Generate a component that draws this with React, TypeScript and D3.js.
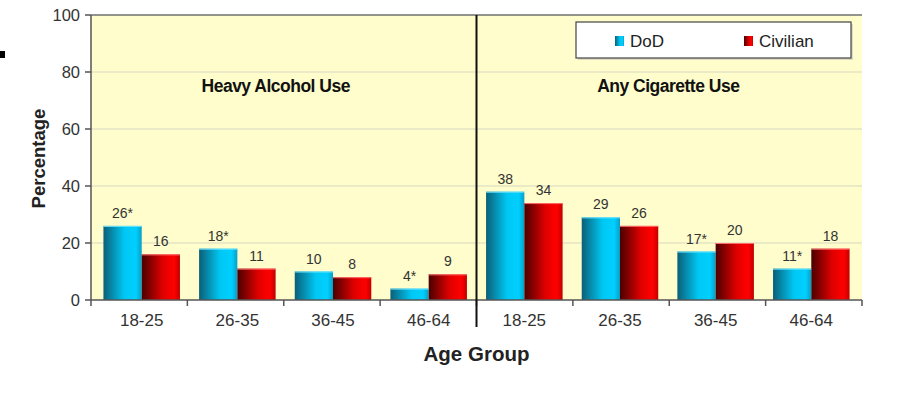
import { useEffect, useRef } from "react";
import * as d3 from "d3";

const width = 898;
const height = 394;
const margin = { top: 15, right: 36, bottom: 94, left: 91 };

const panels = ["Heavy Alcohol Use", "Any Cigarette Use"];
const ageGroups = ["18-25", "26-35", "36-45", "46-64"];
const series = ["DoD", "Civilian"];
const dodValues = [26, 18, 10, 4, 38, 29, 17, 11];
const civilianValues = [16, 11, 8, 9, 34, 26, 20, 18];
const dodLabels = ["26*", "18*", "10", "4*", "38", "29", "17*", "11*"];
const civilianLabels = ["16", "11", "8", "9", "34", "26", "20", "18"];
const yTicks = [0, 20, 40, 60, 80, 100];

const font = "'Liberation Sans', Arial, Helvetica, sans-serif";

function App() {
  const d3Node = useRef<HTMLDivElement>(null);

  useEffect(() => {
    const root = d3.select(d3Node.current);
    root.selectAll("svg").remove();

    const svg = root
      .append("svg")
      .attr("width", width)
      .attr("height", height)
      .attr("viewBox", [0, 0, width, height].join(" "))
      .style("position", "absolute")
      .style("left", "0px")
      .style("top", "0px")
      .style("background", "#fff");

    const defs = svg.append("defs");
    const blueGrad = defs.append("linearGradient").attr("id", "gBlue");
    blueGrad.append("stop").attr("offset", "0%").attr("stop-color", "#0b5f78");
    blueGrad.append("stop").attr("offset", "55%").attr("stop-color", "#00c8f4");
    blueGrad.append("stop").attr("offset", "85%").attr("stop-color", "#00cfff");
    blueGrad.append("stop").attr("offset", "100%").attr("stop-color", "#079fc6");
    const redGrad = defs.append("linearGradient").attr("id", "gRed");
    redGrad.append("stop").attr("offset", "0%").attr("stop-color", "#4a0000");
    redGrad.append("stop").attr("offset", "55%").attr("stop-color", "#e00000");
    redGrad.append("stop").attr("offset", "85%").attr("stop-color", "#ff0000");
    redGrad.append("stop").attr("offset", "100%").attr("stop-color", "#c00000");

    const plotW = width - margin.left - margin.right;
    const plotH = height - margin.top - margin.bottom;
    const x0 = margin.left;
    const yBottom = margin.top + plotH;

    // stray mark at left edge
    svg.append("rect").attr("x", 0).attr("y", 51).attr("width", 5).attr("height", 7).attr("fill", "#000");

    const keys = panels.flatMap((p) => ageGroups.map((a) => p + "|" + a));
    const x = d3
      .scaleBand()
      .domain(keys)
      .range([x0, x0 + plotW])
      .paddingInner(0.2)
      .paddingOuter(0.13);
    const xs = d3.scaleBand().domain(series).range([0, x.bandwidth()]);
    const step = plotW / keys.length;

    const y = d3.scaleLinear().domain([0, 100]).range([yBottom, margin.top]);

    // background
    svg
      .append("rect")
      .attr("x", x0)
      .attr("y", margin.top)
      .attr("width", plotW)
      .attr("height", plotH)
      .attr("fill", "#fefdcb");

    // grid lines
    svg
      .selectAll(".grid")
      .data(yTicks.filter((d) => d > 0 && d < 100))
      .enter()
      .append("line")
      .attr("x1", x0)
      .attr("x2", x0 + plotW)
      .attr("y1", (d) => y(d))
      .attr("y2", (d) => y(d))
      .attr("stroke", "#d8d8c2")
      .attr("stroke-width", 1.2);

    // top border
    svg
      .append("line")
      .attr("x1", x0)
      .attr("x2", x0 + plotW)
      .attr("y1", y(100))
      .attr("y2", y(100))
      .attr("stroke", "#6f6f6f")
      .attr("stroke-width", 1.5);

    // bars
    const rows = keys.map((k, i) => ({
      key: k,
      vals: [
        { s: "DoD", v: dodValues[i], label: dodLabels[i] },
        { s: "Civilian", v: civilianValues[i], label: civilianLabels[i] },
      ],
    }));

    const groups = svg
      .selectAll(".grp")
      .data(rows)
      .enter()
      .append("g")
      .attr("transform", (d) => "translate(" + x(d.key) + ",0)");

    groups
      .selectAll("rect")
      .data((d) => d.vals)
      .enter()
      .append("rect")
      .attr("x", (d) => xs(d.s)!)
      .attr("y", (d) => y(d.v))
      .attr("width", xs.bandwidth())
      .attr("height", (d) => yBottom - y(d.v))
      .attr("fill", (d) => (d.s === "DoD" ? "url(#gBlue)" : "url(#gRed)"));

    groups
      .selectAll(".toph")
      .data((d) => d.vals)
      .enter()
      .append("line")
      .attr("x1", (d) => xs(d.s)!)
      .attr("x2", (d) => xs(d.s)! + xs.bandwidth())
      .attr("y1", (d) => y(d.v) + 0.5)
      .attr("y2", (d) => y(d.v) + 0.5)
      .attr("stroke", (d) => (d.s === "DoD" ? "#6fe3ff" : "#ff6a6a"))
      .attr("stroke-width", 1);

    groups
      .selectAll("text")
      .data((d) => d.vals)
      .enter()
      .append("text")
      .attr("x", (d) => xs(d.s)! + xs.bandwidth() / 2)
      .attr("y", (d) => y(d.v) - 8)
      .attr("text-anchor", "middle")
      .attr("font-family", font)
      .attr("font-size", 14)
      .attr("fill", "#333")
      .text((d) => d.label);

    // y axis
    svg
      .append("line")
      .attr("x1", x0)
      .attr("x2", x0)
      .attr("y1", margin.top)
      .attr("y2", yBottom)
      .attr("stroke", "#555")
      .attr("stroke-width", 1.5);
    svg
      .selectAll(".ytick")
      .data(yTicks)
      .enter()
      .append("line")
      .attr("x1", x0 - 6)
      .attr("x2", x0)
      .attr("y1", (d) => y(d))
      .attr("y2", (d) => y(d))
      .attr("stroke", "#555")
      .attr("stroke-width", 1.5);
    svg
      .selectAll(".ylab")
      .data(yTicks)
      .enter()
      .append("text")
      .attr("x", x0 - 11)
      .attr("y", (d) => y(d) + 6)
      .attr("text-anchor", "end")
      .attr("font-family", font)
      .attr("font-size", 16.5)
      .attr("fill", "#333")
      .text((d) => d);

    // x axis
    svg
      .append("line")
      .attr("x1", x0)
      .attr("x2", x0 + plotW)
      .attr("y1", yBottom)
      .attr("y2", yBottom)
      .attr("stroke", "#555")
      .attr("stroke-width", 1.5);
    svg
      .selectAll(".xtick")
      .data(d3.range(keys.length + 1))
      .enter()
      .append("line")
      .attr("x1", (i) => x0 + i * step)
      .attr("x2", (i) => x0 + i * step)
      .attr("y1", yBottom)
      .attr("y2", yBottom + 6)
      .attr("stroke", "#555")
      .attr("stroke-width", 1.5);
    svg
      .selectAll(".xlab")
      .data(keys)
      .enter()
      .append("text")
      .attr("x", (d) => x(d)! + x.bandwidth() / 2)
      .attr("y", yBottom + 26)
      .attr("text-anchor", "middle")
      .attr("font-family", font)
      .attr("font-size", 17)
      .attr("fill", "#333")
      .text((d) => d.split("|")[1]);

    // panel divider
    svg
      .append("line")
      .attr("x1", x0 + plotW / 2)
      .attr("x2", x0 + plotW / 2)
      .attr("y1", margin.top)
      .attr("y2", yBottom + 27)
      .attr("stroke", "#111")
      .attr("stroke-width", 2);

    // panel titles
    svg
      .selectAll(".ptitle")
      .data(panels)
      .enter()
      .append("text")
      .attr("x", (d, i) => x0 + (plotW / 2) * i + plotW / 4 - 8 * (1 - i) - 1 * i)
      .attr("y", y(80) + 20)
      .attr("text-anchor", "middle")
      .attr("font-family", font)
      .attr("font-size", 17.5)
      .attr("font-weight", "bold")
      .attr("letter-spacing", -0.5)
      .attr("fill", "#111")
      .text((d) => d);

    // axis titles
    svg
      .append("text")
      .attr("transform", "translate(45," + (margin.top + plotH / 2 + 1) + ") rotate(-90)")
      .attr("text-anchor", "middle")
      .attr("font-family", font)
      .attr("font-size", 18.5)
      .attr("font-weight", "bold")
      .attr("fill", "#222")
      .text("Percentage");
    svg
      .append("text")
      .attr("x", x0 + plotW / 2)
      .attr("y", yBottom + 61)
      .attr("text-anchor", "middle")
      .attr("font-family", font)
      .attr("font-size", 20.5)
      .attr("font-weight", "bold")
      .attr("fill", "#222")
      .text("Age Group");

    // legend
    const lg = svg.append("g").attr("transform", "translate(576,22)");
    lg.append("rect")
      .attr("x", 2)
      .attr("y", 2)
      .attr("width", 275)
      .attr("height", 36)
      .attr("fill", "#bbb")
      .attr("opacity", 0.5);
    lg.append("rect")
      .attr("width", 275)
      .attr("height", 36)
      .attr("fill", "#fff")
      .attr("stroke", "#444")
      .attr("stroke-width", 1.2);
    const items = lg
      .selectAll(".item")
      .data(series)
      .enter()
      .append("g")
      .attr("transform", (d, i) => "translate(" + (39 + i * 129) + ",14)");
    items
      .append("rect")
      .attr("width", 9)
      .attr("height", 10)
      .attr("fill", (d) => (d === "DoD" ? "url(#gBlue)" : "url(#gRed)"));
    items
      .append("text")
      .attr("x", 15)
      .attr("y", 11)
      .attr("font-family", font)
      .attr("font-size", 17)
      .attr("fill", "#222")
      .text((d) => d);
  }, []);

  return <div ref={d3Node} />;
}

export default App;
